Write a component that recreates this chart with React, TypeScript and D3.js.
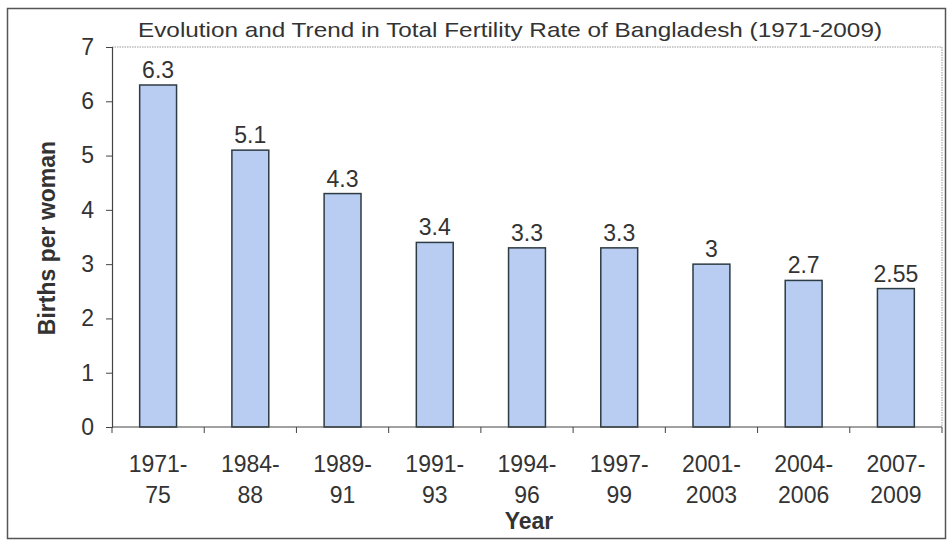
import React, { useRef, useEffect } from 'react';
import * as d3 from 'd3';

const periods = [
  ['1971-', '75'],
  ['1984-', '88'],
  ['1989-', '91'],
  ['1991-', '93'],
  ['1994-', '96'],
  ['1997-', '99'],
  ['2001-', '2003'],
  ['2004-', '2006'],
  ['2007-', '2009'],
];
const tfr = [6.3, 5.1, 4.3, 3.4, 3.3, 3.3, 3, 2.7, 2.55];
const yTicks = [0, 1, 2, 3, 4, 5, 6, 7];

const title = 'Evolution and Trend in Total Fertility Rate of Bangladesh (1971-2009)';

const App = () => {
  const ref = useRef<SVGSVGElement | null>(null);
  const width = 950;
  const height = 541;

  useEffect(() => {
    if (!ref.current) return;
    const margin = { top: 47, right: 8, bottom: 114, left: 112 };
    const font = 'Arial, "Liberation Sans", sans-serif';
    const ink = '#333';

    const keys = periods.map((p) => p.join(''));
    const x = d3
      .scaleBand(keys, [margin.left, width - margin.right])
      .paddingInner(0.6)
      .paddingOuter(0.3);
    const bandStep = x.step();
    const y = d3
      .scaleLinear()
      .domain([0, 7])
      .range([height - margin.bottom, margin.top]);

    const svg = d3.select(ref.current);
    svg.selectAll('*').remove();

    // outer frame
    svg
      .append('rect')
      .attr('x', 7.5)
      .attr('y', 8.5)
      .attr('width', width - 12)
      .attr('height', height - 11)
      .attr('fill', '#fff')
      .attr('stroke', '#555')
      .attr('stroke-width', 1.5);

    // plot area border (top & right dotted)
    const plotL = margin.left;
    const plotR = width - margin.right;
    svg
      .append('path')
      .attr('d', `M${plotL},${y(7)}H${plotR}V${y(0)}`)
      .attr('fill', 'none')
      .attr('stroke', '#999')
      .attr('stroke-dasharray', '1.5,1');

    svg
      .append('text')
      .attr('x', 510)
      .attr('y', 37)
      .attr('text-anchor', 'middle')
      .attr('font-family', font)
      .attr('font-size', 21)
      .attr('fill', ink)
      .attr('textLength', 744)
      .attr('lengthAdjust', 'spacingAndGlyphs')
      .text(title);

    // bars
    svg
      .append('g')
      .selectAll('rect')
      .data(tfr)
      .join('rect')
      .attr('x', (_, i) => x(keys[i]) || 0)
      .attr('y', (d) => y(d))
      .attr('width', x.bandwidth())
      .attr('height', (d) => y(0) - y(d))
      .attr('fill', '#b9cdf3')
      .attr('stroke', '#2d3b42')
      .attr('stroke-width', 1.5);

    svg
      .append('g')
      .selectAll('text')
      .data(tfr)
      .join('text')
      .attr('x', (_, i) => (x(keys[i]) || 0) + x.bandwidth() / 2)
      .attr('y', (d) => y(d) - 7)
      .attr('text-anchor', 'middle')
      .attr('font-family', font)
      .attr('font-size', 23)
      .attr('fill', ink)
      .text((d) => String(d));

    // y axis
    const yAxis = svg.append('g').attr('transform', `translate(${plotL},0)`);
    yAxis
      .call(
        d3
          .axisLeft(y)
          .tickValues(yTicks)
          .tickFormat(d3.format('d'))
          .tickSize(6)
          .tickPadding(12)
      )
      .call((g) => g.select('.domain').attr('stroke', '#444').attr('stroke-width', 1.2))
      .call((g) => g.selectAll('.tick line').attr('stroke', '#444'))
      .call((g) =>
        g
          .selectAll('.tick text')
          .attr('font-family', font)
          .attr('font-size', 23)
          .attr('fill', ink)
      );

    // x axis
    const xAxisG = svg.append('g').attr('transform', `translate(0,${y(0)})`);
    xAxisG
      .append('line')
      .attr('x1', plotL)
      .attr('x2', plotR)
      .attr('stroke', '#444')
      .attr('stroke-width', 1.2);
    xAxisG
      .selectAll('line.tk')
      .data(d3.range(keys.length + 1))
      .join('line')
      .attr('class', 'tk')
      .attr('x1', (i) => plotL + i * bandStep)
      .attr('x2', (i) => plotL + i * bandStep)
      .attr('y1', 0)
      .attr('y2', 6)
      .attr('stroke', '#444');

    const lab = xAxisG
      .selectAll('text')
      .data(periods)
      .join('text')
      .attr('text-anchor', 'middle')
      .attr('font-family', font)
      .attr('font-size', 23)
      .attr('fill', ink);
    lab
      .append('tspan')
      .attr('x', (_, i) => (x(keys[i]) || 0) + x.bandwidth() / 2)
      .attr('y', 45)
      .text((d) => d[0]);
    lab
      .append('tspan')
      .attr('x', (_, i) => (x(keys[i]) || 0) + x.bandwidth() / 2)
      .attr('y', 76)
      .text((d) => d[1]);

    svg
      .append('text')
      .attr('x', 529)
      .attr('y', 529)
      .attr('text-anchor', 'middle')
      .attr('font-family', font)
      .attr('font-weight', 'bold')
      .attr('font-size', 23)
      .attr('fill', ink)
      .text('Year');

    svg
      .append('text')
      .attr('transform', 'translate(55,238) rotate(-90)')
      .attr('text-anchor', 'middle')
      .attr('font-family', font)
      .attr('font-weight', 'bold')
      .attr('font-size', 23)
      .attr('fill', ink)
      .text('Births per woman');
  });

  return (
    <svg
      ref={ref}
      width={width}
      height={height}
      viewBox={`0 0 ${width} ${height}`}
      style={{ position: 'absolute', left: 0, top: 0 }}
    />
  );
};

export default App;
